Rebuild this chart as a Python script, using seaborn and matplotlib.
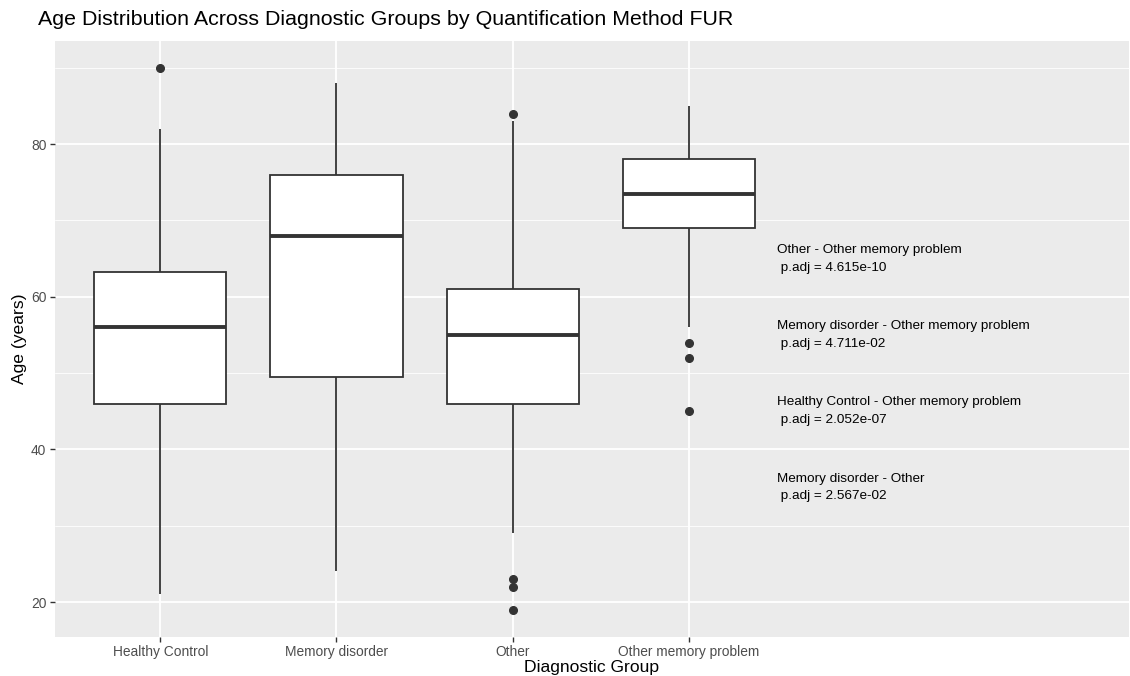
import matplotlib
matplotlib.use("Agg")
import matplotlib.pyplot as plt
import seaborn as sns
import pandas as pd
from matplotlib.ticker import MultipleLocator

# Category labels
groups = ["Healthy Control", "Memory disorder", "Other", "Other memory problem"]

# Sample ages per group (chosen to reproduce the quartiles, whiskers and outliers)
healthy_control = [21, 40, 46, 50, 56, 60, 63.2, 82, 90]
memory_disorder = [24, 49.5, 68, 76, 88]
other = [19, 22, 23, 29, 46, 48, 50, 52, 55, 57, 58, 59, 61, 70, 75, 83, 84]
other_memory_problem = [45, 52, 54, 56, 69, 70, 71, 72, 73.5, 75, 76, 77, 78, 80, 82, 84, 85]

# Pairwise comparison annotations
comparisons = [
    "Other - Other memory problem",
    "Memory disorder - Other memory problem",
    "Healthy Control - Other memory problem",
    "Memory disorder - Other",
]
p_adj = ["4.615e-10", "4.711e-02", "2.052e-07", "2.567e-02"]
annot_y = [65, 55, 45, 35]

y_ticks = [20, 40, 60, 80]

rows = []
for g, vals in zip(groups, [healthy_control, memory_disorder, other, other_memory_problem]):
    for v in vals:
        rows.append({"group": g, "age": v})
df = pd.DataFrame(rows)

sns.set_theme(style="darkgrid")
plt.rcParams["font.family"] = ["Liberation Sans", "DejaVu Sans"]

fig = plt.figure(figsize=(11.3, 6.76), dpi=100)
ax = fig.add_axes([0.0484, 0.0581, 0.9507, 0.8817])
ax.set_facecolor("#EBEBEB")

sns.boxplot(
    data=df, x="group", y="age", order=groups, ax=ax,
    color="white", linecolor="#333333", linewidth=1.3, width=0.75,
    whis=1.5, showcaps=False, saturation=1,
    flierprops=dict(marker="o", markerfacecolor="#333333", markeredgecolor="#333333", markersize=5.5),
    medianprops=dict(linewidth=2.8, color="#333333"),
    boxprops=dict(edgecolor="#333333", facecolor="white"),
)

for txt, p, y in zip(comparisons, p_adj, annot_y):
    ax.text(3.5, y, f"{txt}\n p.adj = {p}", ha="left", va="center",
            fontsize=9.7, color="black", linespacing=1.65)

ax.set_xlim(-0.6, 5.5)
ax.set_ylim(15.45, 93.55)
ax.set_yticks(y_ticks)
ax.yaxis.set_minor_locator(MultipleLocator(10))
ax.grid(which="major", color="white", linewidth=1.3)
ax.grid(which="minor", axis="y", color="white", linewidth=0.6)
ax.set_axisbelow(True)
for s in ax.spines.values():
    s.set_visible(False)

ax.tick_params(axis="both", which="major", length=3.5, width=1, color="#333333",
               labelcolor="#4D4D4D", labelsize=9.9, pad=2.5, bottom=True, left=True)
ax.tick_params(axis="both", which="minor", length=0)

ax.set_xlabel("Diagnostic Group", fontsize=12.6, color="black", labelpad=1)
ax.set_ylabel("Age (years)", fontsize=12.6, color="black", labelpad=3)
fig.text(0.0336, 0.971, "Age Distribution Across Diagnostic Groups by Quantification Method FUR",
         fontsize=15.4, color="black", ha="left", va="center")

fig.savefig("out.png", dpi=100)
